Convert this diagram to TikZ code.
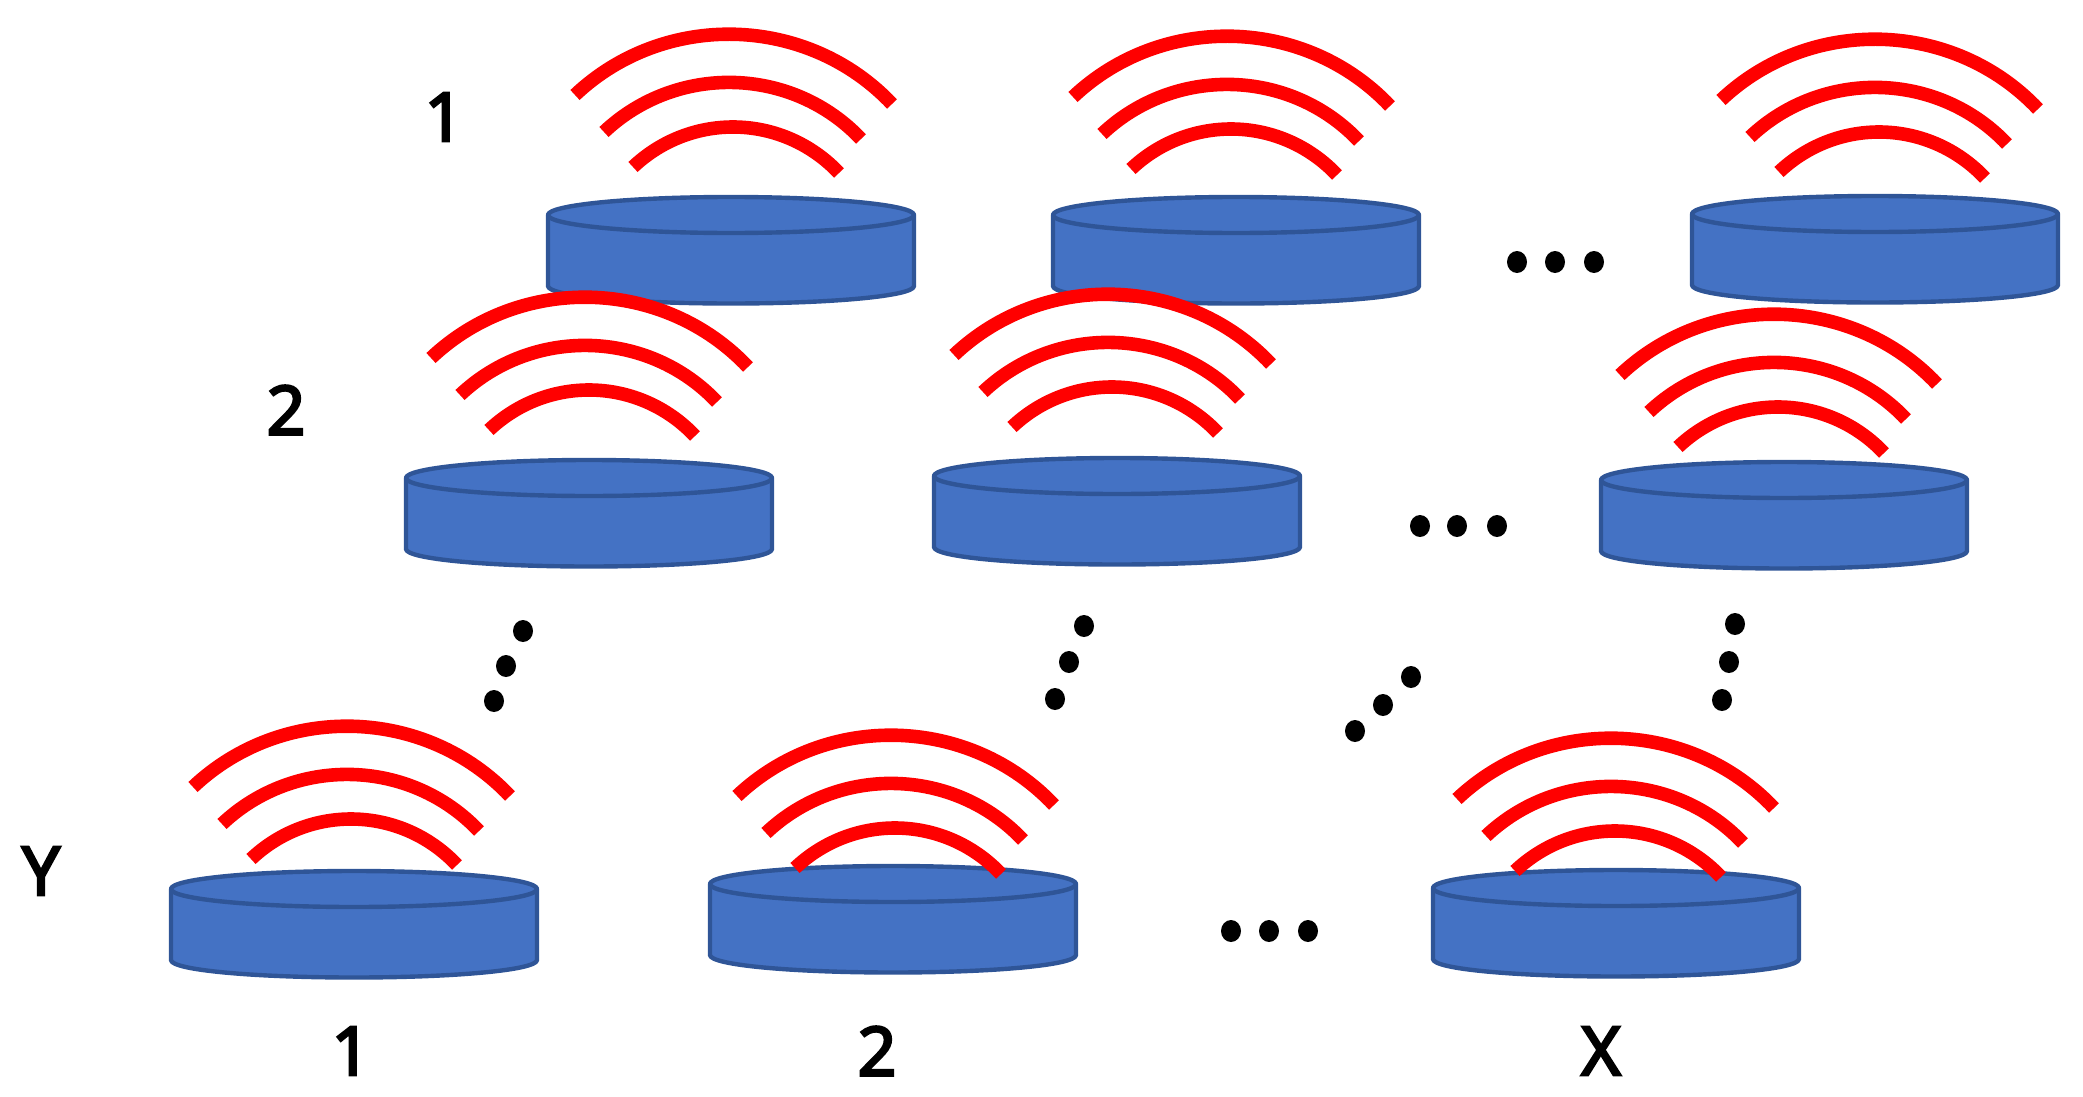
\documentclass[tikz,border=0pt]{standalone}
\usepackage{fontspec}
\setmainfont{Noto Sans}
\newfontfamily\labfont[FakeBold=3.5]{Noto Sans}
\definecolor{discfill}{HTML}{4472C4}
\definecolor{discline}{HTML}{2F5597}
\tikzset{
  x=0.5pt,y=-0.5pt,
  discshape/.style={fill=discfill,draw=discline,line width=2.2pt,line join=round},
  ray/.style={draw=red,line width=6.8pt,line cap=butt},
  dotmark/.style={fill=black,draw=none},
  lab/.style={font=\labfont\fontsize{34}{34}\selectfont,text=black,inner sep=0pt},
  disc/.pic={
    \path[discshape] (-183,0) -- (-183,71) .. controls (-183,81) and (-101,88.5) .. (0,88.5) .. controls (101,88.5) and (183,81) .. (183,71) -- (183,0) -- cycle;
    \path[discshape] (0,0) ellipse [x radius=183,y radius=18];
  },
  wave/.pic={
    \path[ray] (-156,-120) .. controls (-66.6,-204.5) and (76.5,-200.4) .. (161,-111);
    \path[ray] (-127,-83) .. controls (-54.3,-151.7) and (61.3,-148.7) .. (130,-76);
    \path[ray] (-98,-48) .. controls (-39.1,-103.6) and (52.4,-100.9) .. (108,-42);
  },
  dotpic/.pic={\path[dotmark] (0,0) ellipse [x radius=10,y radius=11];}
}
\begin{document}
\begin{tikzpicture}
\useasboundingbox (0,0) rectangle (2083,1097);
% discs
\foreach \cx/\cy in {731/215,1236/215,1875/214,589/478,1117/476,1784/480,354/889,893/884,1616/888}
  \pic at (\cx,\cy) {disc};
% waves
\foreach \wx/\wy in {731/215,1229/217,1877/220,587/478,1110/475,1776/495,349/907,893/916,1613/919}
  \pic at (\wx,\wy) {wave};
% dots
\foreach \dx/\dy in {
  1517/262,1555/262,1594/262,
  1420/526,1457/526,1497/526,
  1231/931,1269/931,1308/931,
  523/631,506/666,494/701,
  1084/626,1069/662,1055/699,
  1735/624,1729/662,1722/700,
  1411/677,1383/705,1355/731}
  \pic at (\dx,\dy) {dotpic};
% labels
\node[lab] (rowa) at (444,117) {1};
\node[lab] (rowb) at (286,410) {2};
\node[lab] (rowy) at (41,871) {Y};
\node[lab] (cola) at (351,1051) {1};
\node[lab] (colb) at (877,1051) {2};
\node[lab] (colx) at (1601,1051) {X};
\end{tikzpicture}
\end{document}
